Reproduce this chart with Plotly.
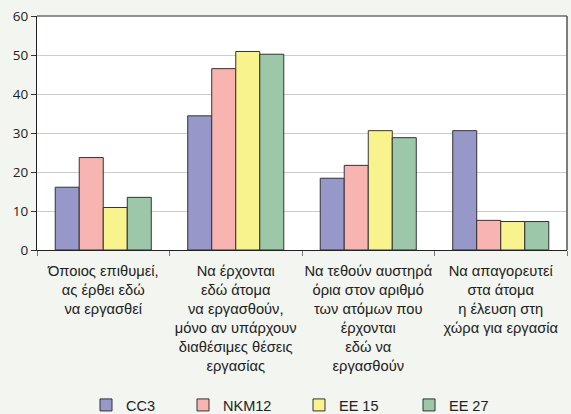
import plotly.graph_objects as go

categories = [
    "Όποιος επιθυμεί,<br>ας έρθει εδώ<br>να εργασθεί",
    "Να έρχονται<br>εδώ άτομα<br>να εργασθούν,<br>μόνο αν υπάρχουν<br>διαθέσιμες θέσεις<br>εργασίας",
    "Να τεθούν αυστηρά<br>όρια στον αριθμό<br>των ατόμων που<br>έρχονται<br>εδώ να<br>εργασθούν",
    "Να απαγορευτεί<br>στα άτομα<br>η έλευση στη<br>χώρα για εργασία",
]
series_names = ["CC3", "NKM12", "EE 15", "EE 27"]
cc3 = [16.1, 34.4, 18.4, 30.6]
nkm12 = [23.7, 46.5, 21.7, 7.6]
ee15 = [10.9, 50.9, 30.6, 7.3]
ee27 = [13.5, 50.2, 28.8, 7.3]
y_ticks = [0, 10, 20, 30, 40, 50, 60]

colors = ["#9797c9", "#f8b4b0", "#f8f38c", "#9dc7a9"]
values = [cc3, nkm12, ee15, ee27]
legend_ids = ["legend", "legend2", "legend3", "legend4"]
legend_left_px = [86, 183, 299, 409]

fig = go.Figure()
for name, vals, col, lid in zip(series_names, values, colors, legend_ids):
    fig.add_trace(go.Bar(
        x=categories, y=vals, name=name, legend=lid,
        marker=dict(color=col, line=dict(color="#333333", width=1)),
    ))

legend_layout = {}
for lid, px in zip(legend_ids, legend_left_px):
    legend_layout[lid] = dict(
        orientation="h", xref="container", yref="container",
        x=px / 571, xanchor="left", y=(414 - 405) / 414, yanchor="middle",
        font=dict(size=14.5), bgcolor="rgba(0,0,0,0)", borderwidth=0,
    )

fig.update_layout(
    width=571, height=414,
    margin=dict(l=37, r=4, t=16, b=164),
    paper_bgcolor="#f2f5f0",
    plot_bgcolor="#ffffff",
    barmode="group",
    bargap=0.275,
    bargroupgap=0,
    font=dict(family="Liberation Sans, Arial, sans-serif", size=14.7, color="#222222"),
    showlegend=True,
    shapes=[
        dict(type="line", xref="paper", yref="paper", x0=0, x1=1, y0=1, y1=1,
             line=dict(color="#6e6e6e", width=1.5), layer="above"),
        dict(type="line", xref="paper", yref="paper", x0=1, x1=1, y0=0, y1=1,
             line=dict(color="#555555", width=1.5), layer="above"),
    ],
    **legend_layout,
)
fig.update_yaxes(
    range=[0, 60], tickvals=y_ticks, showgrid=True, gridcolor="#cccccc", gridwidth=1,
    showline=True, linecolor="#222222", linewidth=1,
    ticks="outside", ticklen=5, tickcolor="#333333", automargin=False,
    tickfont=dict(family="Open Sans, DejaVu Sans, sans-serif", size=13.5, color="#222222"),
    zeroline=False,
)
fig.update_xaxes(
    showline=True, linecolor="#222222", linewidth=1,
    ticks="outside", tickson="boundaries", ticklen=5, tickcolor="#777777",
    tickangle=0, automargin=False, ticklabelstandoff=7,
    tickfont=dict(size=14.7, color="#222222"),
)

fig.write_html("out.html", config={"displayModeBar": False},
               post_script="document.body.style.margin='0';")
